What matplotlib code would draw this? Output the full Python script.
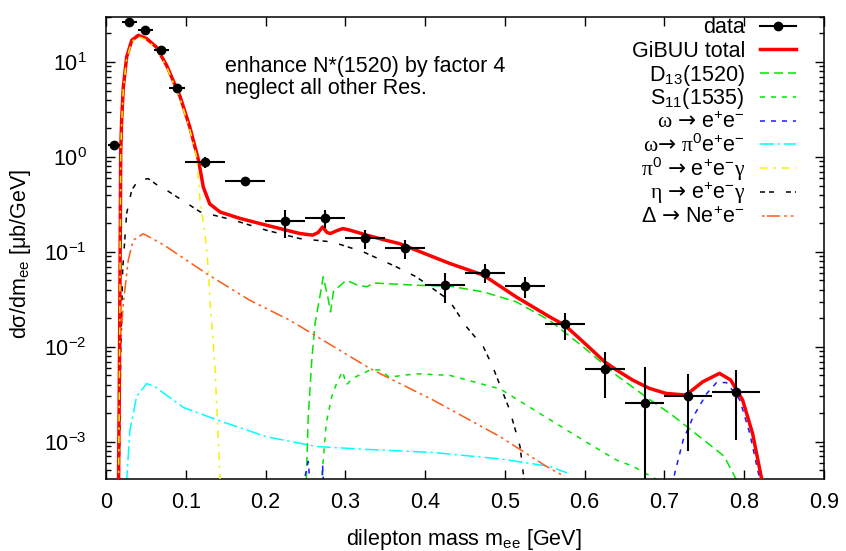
import numpy as np
import matplotlib
matplotlib.use("Agg")
import matplotlib.pyplot as plt

plt.rcParams['font.family'] = ['Liberation Sans', 'DejaVu Sans']
plt.rcParams['mathtext.fontset'] = 'custom'
plt.rcParams['mathtext.rm'] = 'Liberation Sans'
plt.rcParams['mathtext.it'] = 'Liberation Sans:italic'
plt.rcParams['mathtext.bf'] = 'Liberation Sans:bold'
plt.rcParams['mathtext.sf'] = 'Liberation Serif'
plt.rcParams['mathtext.tt'] = 'DejaVu Sans'
plt.rcParams['mathtext.default'] = 'regular'

FS = 15.5

# ---------------- data points ----------------
data_x = [0.010, 0.029, 0.049, 0.069, 0.089, 0.124, 0.174, 0.224, 0.274, 0.325,
          0.375, 0.425, 0.475, 0.525, 0.575, 0.625, 0.675, 0.730, 0.790]
data_y = [1.33, 26.5, 21.8, 13.4, 5.38, 0.89, 0.558, 0.211, 0.229, 0.139,
          0.109, 0.0446, 0.0602, 0.0436, 0.0172, 0.0059, 0.00258, 0.0030, 0.00334]
data_xerr = [0.008, 0.0094, 0.0094, 0.0094, 0.0095, 0.025, 0.025, 0.025, 0.025, 0.025,
             0.025, 0.025, 0.025, 0.025, 0.025, 0.025, 0.025, 0.030, 0.030]
data_yerr_lo = [0.05, 0.6, 0.5, 0.4, 0.2, 0.12, 0.04, 0.07, 0.05, 0.031,
                0.025, 0.016, 0.0136, 0.011, 0.0053, 0.003, 0.00257, 0.0022, 0.0023]
data_yerr_hi = [0.05, 0.6, 0.5, 0.4, 0.2, 0.12, 0.04, 0.064, 0.05, 0.031,
                0.025, 0.016, 0.0136, 0.011, 0.0053, 0.003, 0.0036, 0.0022, 0.0023]

# ---------------- model curves ----------------
total_x = [0.0154, 0.0167, 0.0175, 0.0180, 0.0184, 0.0196, 0.0217, 0.0259, 0.0322, 0.0405,
           0.051, 0.063, 0.076, 0.093, 0.105, 0.116, 0.122, 0.130, 0.143, 0.168,
           0.201, 0.243, 0.259, 0.266, 0.2715, 0.277, 0.281, 0.290, 0.297, 0.306,
           0.327, 0.347, 0.368, 0.389, 0.431, 0.473, 0.514, 0.556, 0.575, 0.598,
           0.625, 0.640, 0.660, 0.681, 0.702, 0.727, 0.748, 0.769, 0.783, 0.798,
           0.8105, 0.822, 0.826]
total_y = [2e-4, 0.0038, 0.043, 0.215, 1.09, 2.43, 5.45, 11.3, 16.9, 19.1,
           17.6, 14.4, 9.2, 4.3, 2.07, 0.92, 0.48, 0.32, 0.263, 0.225,
           0.191, 0.156, 0.150, 0.160, 0.183, 0.160, 0.156, 0.168, 0.176, 0.169,
           0.150, 0.135, 0.122, 0.104, 0.0754, 0.0569, 0.0336, 0.0207, 0.0169, 0.0113,
           0.00695, 0.00569, 0.00447, 0.00365, 0.00323, 0.0031, 0.00428, 0.00525, 0.00447, 0.00275,
           0.00122, 4e-4, 2e-4]

d13_x = [0.2500, 0.2535, 0.258, 0.262, 0.268, 0.2723, 0.278, 0.2815, 0.285, 0.289,
         0.301, 0.306, 0.314, 0.327, 0.335, 0.347, 0.389, 0.431, 0.473, 0.514,
         0.556, 0.598, 0.640, 0.681, 0.710, 0.740, 0.765, 0.775, 0.790, 0.795]
d13_y = [2e-4, 0.00183, 0.0073, 0.0176, 0.0336, 0.0546, 0.0336, 0.0233, 0.038, 0.041,
         0.050, 0.0483, 0.045, 0.0428, 0.047, 0.0465, 0.0445, 0.0435, 0.0379, 0.0298,
         0.019, 0.010, 0.0050, 0.0028, 0.0019, 0.0012, 0.00082, 0.0007, 4e-4, 2e-4]

s11_x = [0.2700, 0.272, 0.276, 0.283, 0.289, 0.2965, 0.3015, 0.310, 0.331, 0.343,
         0.355, 0.389, 0.431, 0.494, 0.552, 0.598, 0.640, 0.661, 0.690, 0.695]
s11_y = [2e-4, 0.00059, 0.00156, 0.0030, 0.0041, 0.0055, 0.0040, 0.0047, 0.0057, 0.0057,
         0.0048, 0.0052, 0.0050, 0.0036, 0.0018, 0.00104, 0.00064, 0.00055, 4e-4, 2e-4]

omega_ee_x = [0.241, 0.2535, 0.258, np.nan, 0.2695, 0.2715, 0.274, np.nan,
              0.706, 0.711, 0.7234, 0.736, 0.7528, 0.7653, 0.7778, 0.7945, 0.807, 0.8195, 0.823]
omega_ee_y = [2e-4, 0.00062, 2e-4, np.nan, 2e-4, 0.00057, 2e-4, np.nan,
              2e-4, 4e-4, 0.00104, 0.00183, 0.0032, 0.0042, 0.0042, 0.00275, 0.00122, 4e-4, 2e-4]

omega_dal_x = [0.0236, 0.030, 0.0384, 0.051, 0.0613, 0.097, 0.139, 0.201, 0.264, 0.327,
               0.410, 0.494, 0.556, 0.578]
omega_dal_y = [2e-4, 0.00133, 0.0030, 0.0041, 0.0038, 0.0023, 0.0017, 0.00113, 0.00089, 0.00083,
               0.00077, 0.00066, 0.00055, 0.00047]

pi0_x = [0.0154, 0.0167, 0.0175, 0.0180, 0.0184, 0.0196, 0.0217, 0.0259, 0.0322, 0.0405,
         0.051, 0.063, 0.076, 0.093, 0.105, 0.1136, 0.1178, 0.124, 0.128, 0.1303,
         0.1366, 0.1429, 0.145]
pi0_y = [2e-4, 0.0035, 0.040, 0.20, 1.0, 2.3, 5.2, 10.8, 16.3, 18.5,
         17.0, 13.9, 8.9, 4.1, 1.95, 1.0, 0.35, 0.156, 0.0695, 0.031,
         0.0062, 4e-4, 2e-4]

eta_x = [0.0162, 0.0184, 0.0209, 0.0259, 0.0322, 0.0405, 0.053, 0.065, 0.076, 0.118,
         0.160, 0.201, 0.243, 0.284, 0.3225, 0.364, 0.389, 0.430, 0.452, 0.473,
         0.485, 0.506, 0.519, 0.524, 0.527]
eta_y = [2e-4, 0.0085, 0.065, 0.254, 0.447, 0.57, 0.59, 0.50, 0.446, 0.264,
         0.216, 0.169, 0.138, 0.127, 0.100, 0.0695, 0.0546, 0.031, 0.0162, 0.010,
         0.0061, 0.00216, 0.00089, 4e-4, 2e-4]

delta_x = [0.0160, 0.0175, 0.0217, 0.0279, 0.0342, 0.0467, 0.059, 0.076, 0.126, 0.180,
           0.2306, 0.251, 0.331, 0.352, 0.410, 0.494, 0.552, 0.575]
delta_y = [2e-4, 0.0085, 0.0286, 0.082, 0.133, 0.155, 0.137, 0.113, 0.059, 0.031,
           0.019, 0.015, 0.0059, 0.0048, 0.00275, 0.00113, 0.00055, 0.00043]

ARR = r"$\mathtt{→}$"
legend_labels = ["data", "GiBUU total", "D$_{13}$(1520)", "S$_{11}$(1535)",
                 r"$\mathsf{ω}$ " + ARR + " e$^{+}$e$^{-}$",
                 r"$\mathsf{ω}$" + ARR + r" $\mathsf{π}^{0}$e$^{+}$e$^{-}$",
                 r"$\mathsf{π}^{0}$ " + ARR + r" e$^{+}$e$^{-}$$\mathsf{γ}$",
                 r"$\mathsf{η}$ " + ARR + r" e$^{+}$e$^{-}$$\mathsf{γ}$",
                 "Δ " + ARR + " Ne$^{+}$e$^{-}$"]

x_ticks = [0, 0.1, 0.2, 0.3, 0.4, 0.5, 0.6, 0.7, 0.8, 0.9]
x_ticklabels = ["0", "0.1", "0.2", "0.3", "0.4", "0.5", "0.6", "0.7", "0.8", "0.9"]

# ---------------- figure ----------------
W, H = 846, 551
fig = plt.figure(figsize=(W / 100, H / 100), dpi=100)
L, R, T, B = 106, 824, 16.7, 479
ax = fig.add_axes([L / W, 1 - B / H, (R - L) / W, (B - T) / H])

thin = 1.1
GREEN, BLUE, CYAN, YELLOW, ORANGE = '#00e600', '#1a1aff', '#00ffff', '#f2f200', '#ff5a14'
styles = [
    (d13_x, d13_y, GREEN, thin, (6.5, 3.6)),
    (s11_x, s11_y, GREEN, thin, (3.6, 4.3)),
    (omega_ee_x, omega_ee_y, BLUE, thin, (3.6, 4.3)),
    (omega_dal_x, omega_dal_y, CYAN, thin, (10, 2.7, 1.7, 2.9)),
    (eta_x, eta_y, '#000000', thin, (3.6, 2.9, 3.6, 8.6)),
    (delta_x, delta_y, ORANGE, thin, (9.6, 2.9, 1.9, 2.9, 1.9, 2.9)),
]
for x, y, c, lw, d in styles:
    ax.plot(x, y, color=c, lw=lw, dashes=[v / lw for v in d], zorder=2)

ax.plot(total_x, total_y, color='#ff0000', lw=2.5, zorder=3)
ax.plot(pi0_x, pi0_y, color=YELLOW, lw=thin,
        dashes=[v / thin for v in (5.3, 4.3, 1.7, 4.3)], zorder=3.5)

ax.errorbar(data_x, data_y, xerr=data_xerr, yerr=[data_yerr_lo, data_yerr_hi],
            fmt='o', color='black', ms=6, elinewidth=1.5, capsize=0, zorder=5)

ax.set_yscale('log')
ax.set_xlim(0, 0.9)
ax.set_ylim(4.05e-4, 30)
ax.set_xticks(x_ticks)
ax.set_xticklabels(x_ticklabels)
ax.tick_params(axis='both', which='both', direction='in', top=True, right=True,
               labelsize=FS, width=1.0)
ax.tick_params(axis='x', which='major', length=6.5, pad=9)
ax.tick_params(axis='x', which='minor', bottom=False, top=False)
ax.tick_params(axis='y', which='major', length=6.5, pad=14)
ax.tick_params(axis='y', which='minor', length=3.5)
for s in ax.spines.values():
    s.set_linewidth(1.1)

ax.set_xlabel("dilepton mass m$_{ee}$ [GeV]", fontsize=FS)
ax.xaxis.set_label_coords(0.4986, -0.104)
ax.set_ylabel("dσ/dm$_{ee}$ [μb/GeV]", fontsize=FS)
ax.yaxis.set_label_coords(-0.102, 0.487)

axh = B - T
def ay(py):
    return (B - py) / axh
def axx(px):
    return (px - L) / (R - L)

ax.text(axx(225), ay(71.7), "enhance N*(1520) by factor 4", fontsize=FS,
        transform=ax.transAxes, va='baseline', ha='left')
ax.text(axx(225), ay(93.5), "neglect all other Res.", fontsize=FS,
        transform=ax.transAxes, va='baseline', ha='left')

# ---------------- legend (gnuplot style) ----------------
leg_styles = [
    ('black', 1.5, None, 'o'),
    ('#ff0000', 2.5, None, None),
    (GREEN, thin, (6.5, 3.6), None),
    (GREEN, thin, (3.6, 4.3), None),
    (BLUE, thin, (3.6, 4.3), None),
    (CYAN, thin, (10, 2.7, 1.7, 2.9), None),
    (YELLOW, thin, (5.3, 4.3, 1.7, 4.3), None),
    ('#000000', thin, (3.6, 2.9, 3.6, 8.6), None),
    (ORANGE, thin, (0.0001, 1.5, 1.9, 1.5, 9.6, 2.9, 1.9, 2.9, 1.9, 2.9), None),
]
row0, dy = 25.7, 23.75
for i, (lab, (c, lw, d, m)) in enumerate(zip(legend_labels, leg_styles)):
    py = row0 + i * dy
    kw = dict(color=c, lw=lw, transform=ax.transAxes, clip_on=False, zorder=6)
    if d is not None:
        kw['dashes'] = [v / lw for v in d]
    ax.plot([axx(760), axx(796)], [ay(py), ay(py)], **kw)
    if m:
        ax.plot([axx(778)], [ay(py)], marker='o', color=c, ms=6,
                transform=ax.transAxes, clip_on=False, zorder=6)
    ax.text(axx(745), ay(py + 7.5), lab, fontsize=FS, ha='right', va='baseline',
            transform=ax.transAxes)

fig.savefig("out.png", dpi=100)
